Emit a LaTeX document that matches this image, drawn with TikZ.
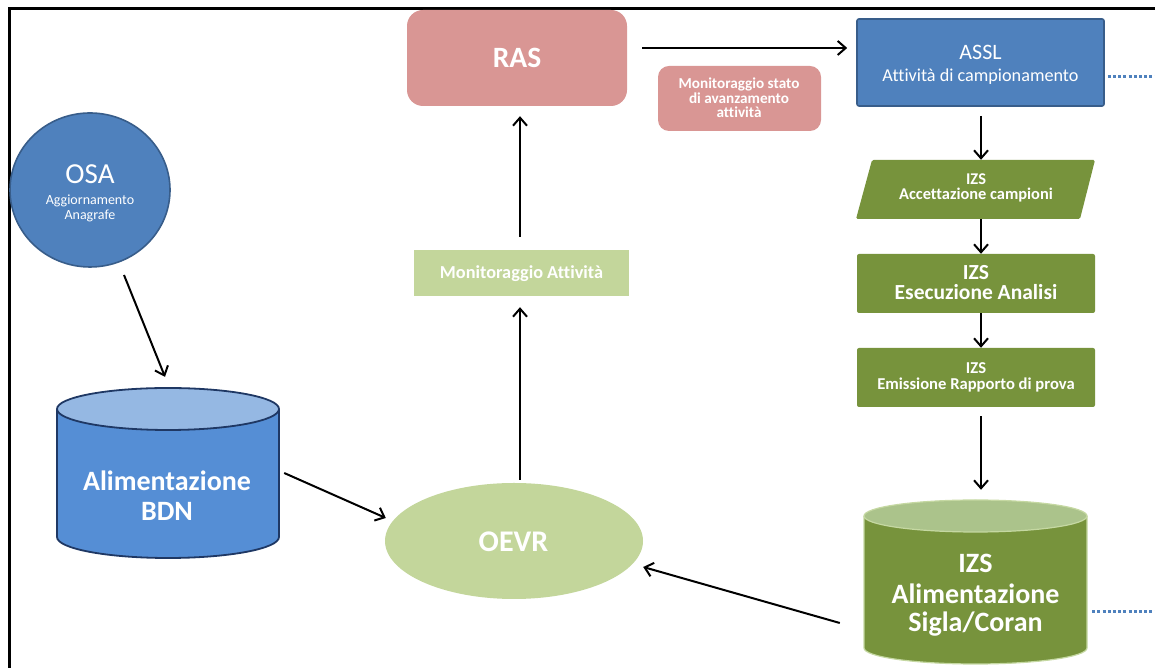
\documentclass[tikz,border=0pt]{standalone}
\usepackage{fontspec}
\setmainfont{Carlito}[Ligatures=NoCommon]
\usetikzlibrary{arrows.meta,calc,shapes.geometric}
\definecolor{bluefill}{HTML}{4F81BD}
\definecolor{blueborder}{HTML}{385D8A}
\definecolor{bdnbody}{HTML}{558ED5}
\definecolor{bdntop}{HTML}{95B8E3}
\definecolor{bdnborder}{HTML}{1F3864}
\definecolor{pinkfill}{HTML}{D99694}
\definecolor{lightgreen}{HTML}{C3D69B}
\definecolor{olive}{HTML}{77933C}
\definecolor{izstop}{HTML}{ABC38B}
\definecolor{izsborder}{HTML}{C5D8A2}
\newcommand\myfs[1]{\fontsize{#1}{#1}\selectfont}
\begin{document}
\begin{tikzpicture}[x=1pt,y=1pt,
  arr/.style={-{Straight Barb[length=8pt,width=14pt]}, line width=2pt, black},
  dots/.style={bluefill, line width=3pt, dash pattern=on 3pt off 2.2pt},
  wt/.style={text=white, inner sep=0pt, anchor=base},
  box/.style={rectangle, inner sep=0pt},
]
\useasboundingbox (0,0) rectangle (1155,668);
% frame
\draw[line width=3pt] (9,-2) -- (9,659.5) -- (1157,659.5);

% OSA
\node[ellipse, fill=bluefill, draw=blueborder, line width=1.6pt, minimum width=160, minimum height=154, inner sep=0] (osa) at (90,478) {};
\node[wt, font=\myfs{29}] (osat1) at (90,484) {OSA};
\node[wt, font=\myfs{14}] (osat2) at (90,463) {Aggiornamento};
\node[wt, font=\myfs{14}] (osat3) at (90,448) {Anagrafe};

% BDN cylinder
\fill[bdnbody] (57,259) -- (57,131) arc[start angle=180, end angle=360, x radius=111, y radius=21] -- (279,259) -- cycle;
\draw[bdnborder, line width=1.8pt] (57,259) -- (57,131) arc[start angle=180, end angle=360, x radius=111, y radius=21] -- (279,259);
\filldraw[fill=bdntop, draw=bdnborder, line width=1.8pt] (168,259) ellipse [x radius=111, y radius=21];
\node[box, minimum width=222, minimum height=170] (bdn) at (168,195) {};
\node[wt, font=\bfseries\myfs{28}] (bdnt1) at (167,177.3) {Alimentazione};
\node[wt, font=\bfseries\myfs{28}] (bdnt2) at (167,147.3) {BDN};

% OEVR
\node[ellipse, fill=lightgreen, minimum width=258, minimum height=116, inner sep=0] (oevr) at (514,127) {};
\node[wt, font=\bfseries\myfs{30}] (oevrt) at (513.5,116.3) {OEVR};

% Monitoraggio Attivita
\node[box, fill=lightgreen, minimum width=215, minimum height=46] (mon) at (521.5,395) {};
\node[wt, font=\bfseries\myfs{18.3}] (mont) at (521.5,389) {Monitoraggio Attività};

% RAS
\node[box, fill=pinkfill, rounded corners=16pt, minimum width=220, minimum height=96] (ras) at (517,610) {};
\node[wt, font=\bfseries\myfs{29.5}] (rast) at (517,600.3) {RAS};

% Monitoraggio stato
\node[box, fill=pinkfill, rounded corners=11pt, minimum width=163, minimum height=65] (mst) at (739.5,569.5) {};
\node[wt, font=\bfseries\myfs{15.2}] (mst1) at (739,579.2) {Monitoraggio stato};
\node[wt, font=\bfseries\myfs{15.2}] (mst2) at (739,564.7) {di avanzamento};
\node[wt, font=\bfseries\myfs{15.2}] (mst3) at (739,550.2) {attività};

% ASSL
\node[box, fill=bluefill, draw=blueborder, line width=1.6pt, rounded corners=2pt, minimum width=247, minimum height=87] (assl) at (980.5,605.5) {};
\node[wt, font=\myfs{22}] (asslt1) at (980.5,608) {ASSL};
\node[wt, font=\myfs{18.2}] (asslt2) at (980.5,586.3) {Attività di campionamento};

% Accettazione (parallelogram)
\fill[olive, rounded corners=1.5pt] (872,508) -- (1095,508) -- (1080,449) -- (856,449) -- cycle;
\node[box, minimum width=230, minimum height=59] (acc) at (976,478.5) {};
\node[wt, font=\bfseries\myfs{16.4}] (acct1) at (976,483) {IZS};
\node[wt, font=\bfseries\myfs{16.4}] (acct2) at (976,468) {Accettazione campioni};

% Esecuzione
\node[box, fill=olive, rounded corners=2pt, minimum width=238, minimum height=59] (ese) at (976,384.5) {};
\node[wt, font=\bfseries\myfs{21.5}] (eset1) at (976,388.7) {IZS};
\node[wt, font=\bfseries\myfs{21.5}] (eset2) at (976,368.7) {Esecuzione Analisi};

% Emissione
\node[box, fill=olive, rounded corners=2pt, minimum width=238, minimum height=59] (emi) at (976,290.5) {};
\node[wt, font=\bfseries\myfs{16.6}] (emit1) at (976,294) {IZS};
\node[wt, font=\bfseries\myfs{16.6}] (emit2) at (976,278) {Emissione Rapporto di prova};

% IZS cylinder
\fill[olive] (864,152) -- (864,20) arc[start angle=180, end angle=360, x radius=111.5, y radius=16] -- (1087,152) -- cycle;
\draw[izsborder, line width=1.2pt] (864,152) -- (864,20) arc[start angle=180, end angle=360, x radius=111.5, y radius=16] -- (1087,152);
\filldraw[fill=izstop, draw=izsborder, line width=1.2pt] (975.5,152) ellipse [x radius=111.5, y radius=16];
\node[box, minimum width=223, minimum height=164] (izs) at (975.5,86) {};
\node[wt, font=\bfseries\myfs{28}] (izst1) at (975.5,95) {IZS};
\node[wt, font=\bfseries\myfs{28}] (izst2) at (975.5,64) {Alimentazione};
\node[wt, font=\bfseries\myfs{28}] (izst3) at (975.5,36.3) {Sigla/Coran};

% dotted continuations
\coordinate (dotA) at (1157,591);
\coordinate (dotB) at (1157,56);
\draw[dots] ($(assl.east)+(3,-14.5)$) -- (dotA);
\draw[dots] ($(izs.east)+(5,-30)$) -- (dotB);

% connectors
\draw[arr] ($(osa.center)+(34,-85)$) -- ($(bdn.north)+(-3,11)$);
\draw[arr] ($(bdn.east)+(5,0)$) -- ($(oevr.west)+(1,23)$);
\draw[arr] ($(oevr.north)+(6,3)$) -- ($(mon.south)+(-1.5,-11)$);
\draw[arr] ($(mon.north)+(-1.5,13)$) -- ($(ras.south)+(3,-10)$);
\draw[arr] ($(ras.east)+(15,10)$) -- ($(assl.west)+(-9,14.5)$);
\draw[arr] ($(assl.south)+(0.5,-9)$) -- ($(acc.north)+(5,0)$);
\draw[arr] ($(acc.south)+(5,0)$) -- ($(ese.north)+(5,0)$);
\draw[arr] ($(ese.south)+(5,0)$) -- ($(emi.north)+(5,0)$);
\draw[arr] ($(emi.south)+(5,-9)$) -- ($(izs.north)+(5.5,10)$);
\draw[arr] ($(izs.west)+(-24,-41)$) -- ($(oevr.east)+(0,-26)$);
\end{tikzpicture}
\end{document}
